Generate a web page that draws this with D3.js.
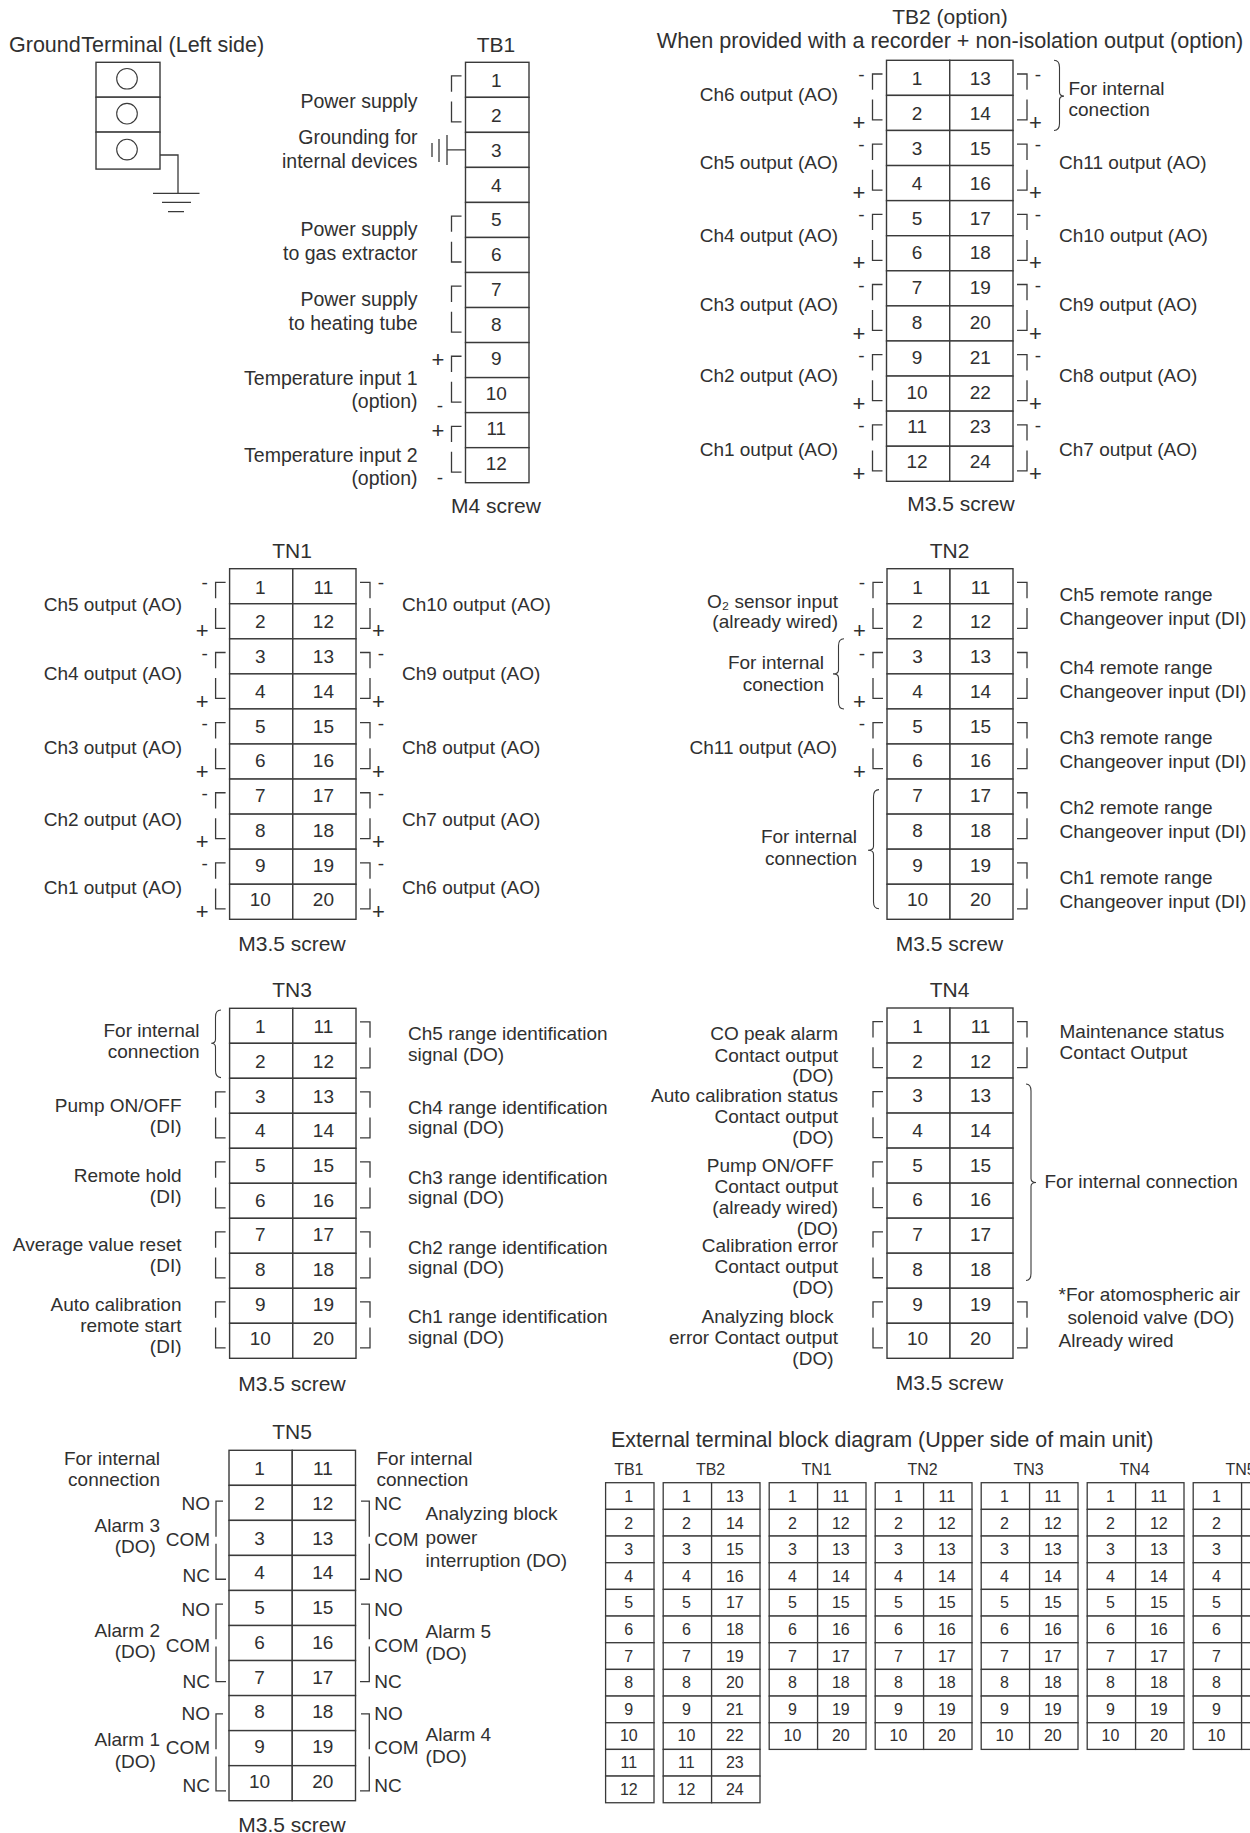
<!DOCTYPE html>
<html><head><meta charset="utf-8">
<script src="https://cdn.jsdelivr.net/npm/d3@7"></script>
<style>
html,body{margin:0;padding:0;background:#fff}
svg{display:block}
text{font-family:"Liberation Sans",Arial,sans-serif;fill:#303030}
</style></head><body>
<svg id="c" width="1250" height="1833"></svg>
<script>
// ---------- terminal numbers ----------
const tb1Terminals=[1,2,3,4,5,6,7,8,9,10,11,12];
const tb2Left=[1,2,3,4,5,6,7,8,9,10,11,12];
const tb2Right=[13,14,15,16,17,18,19,20,21,22,23,24];
const tnLeft=[1,2,3,4,5,6,7,8,9,10];
const tnRight=[11,12,13,14,15,16,17,18,19,20];

// ---------- label texts and the row each one sits on ----------
const tb1Labels=["Power supply","Grounding for","internal devices","Power supply","to gas extractor","Power supply","to heating tube","Temperature input 1","(option)","Temperature input 2","(option)"];
const tb1LabelRows=[1.31,2.33,3.01,4.96,5.64,6.95,7.64,9.21,9.88,11.40,12.07];

const tb2LeftLabels=["Ch6 output (AO)","Ch5 output (AO)","Ch4 output (AO)","Ch3 output (AO)","Ch2 output (AO)","Ch1 output (AO)"];
const tb2LeftRows=[1.16,3.11,5.18,7.15,9.18,11.29];
const tb2RightLabels=["Ch11 output (AO)","Ch10 output (AO)","Ch9 output (AO)","Ch8 output (AO)","Ch7 output (AO)"];
const tb2RightRows=[3.11,5.18,7.15,9.18,11.29];
const tb2InternalLabels=["For internal","conection"];
const tb2InternalRows=[0.99,1.60];

const tn1LeftLabels=["Ch5 output (AO)","Ch4 output (AO)","Ch3 output (AO)","Ch2 output (AO)","Ch1 output (AO)"];
const tn1RightLabels=["Ch10 output (AO)","Ch9 output (AO)","Ch8 output (AO)","Ch7 output (AO)","Ch6 output (AO)"];
const tn1Rows=[1.21,3.18,5.29,7.33,9.28];

const tn2O2Labels=["O₂ sensor input","(already wired)"];
const tn2O2Rows=[1.13,1.70];
const tn2Internal1=["For internal","conection"];
const tn2Internal1Rows=[2.86,3.48];
const tn2Ch11=["Ch11 output (AO)"];
const tn2Ch11Rows=[5.29];
const tn2Internal2=["For internal","connection"];
const tn2Internal2Rows=[7.82,8.45];
const tn2RightLabels=["Ch5 remote range","Changeover input (DI)","Ch4 remote range","Changeover input (DI)","Ch3 remote range","Changeover input (DI)","Ch2 remote range","Changeover input (DI)","Ch1 remote range","Changeover input (DI)"];
const tn2RightRows=[0.92,1.61,3.00,3.68,5.00,5.68,7.00,7.68,9.00,9.67];

const tn3Internal=["For internal","connection"];
const tn3InternalRows=[0.81,1.41];
const tn3LeftLabels=["Pump ON/OFF","(DI)","Remote hold","(DI)","Average value reset","(DI)","Auto calibration","remote start","(DI)"];
const tn3LeftRows=[2.95,3.55,4.95,5.55,6.94,7.54,8.66,9.26,9.84];
const tn3RightLabels=["Ch5 range identification","signal (DO)","Ch4 range identification","signal (DO)","Ch3 range identification","signal (DO)","Ch2 range identification","signal (DO)","Ch1 range identification","signal (DO)"];
const tn3RightRows=[0.90,1.50,3.02,3.59,5.01,5.59,7.01,7.59,8.99,9.60];

const tn4LeftLabels=["CO peak alarm","Contact output","Auto calibration status","Contact output","Contact output","(already wired)","(DO)","Calibration error","Contact output","error Contact output"];
const tn4LeftRows=[0.91,1.53,2.67,3.29,5.29,5.88,6.48,6.97,7.57,9.59];
const tn4IndentLabels=["(DO)","(DO)","Pump ON/OFF","(DO)","Analyzing block","(DO)"];
const tn4IndentRows=[2.10,3.89,4.67,8.17,8.98,10.19];
const tn4MaintLabels=["Maintenance status","Contact Output"];
const tn4MaintRows=[0.85,1.46];
const tn4InternalLabels=["For internal connection"];
const tn4InternalRows=[5.13];
const tn4NoteLabels=["*For atomospheric air","Already wired"];
const tn4NoteRows=[8.36,9.69];
const tn4SolenoidLabels=["solenoid valve (DO)"];
const tn4SolenoidRows=[9.02];

const tn5Internal=["For internal","connection"];
const tn5InternalRows=[0.42,1.02];
const tn5ContactLeft=["NO","COM","NC","NO","COM","NC","NO","COM","NC"];
const tn5ContactRight=["NC","COM","NO","NO","COM","NC","NO","COM","NC"];
const tn5ContactRows=[1.70,2.73,3.77,4.73,5.75,6.79,7.69,8.67,9.74];
const tn5AlarmLabels=["Alarm 3","Alarm 2","Alarm 1"];
const tn5AlarmRows=[2.32,5.32,8.43];
const tn5DoLabels=["(DO)","(DO)","(DO)"];
const tn5DoRows=[2.94,5.92,9.06];
const tn5RightLabels=["Analyzing block","power","interruption (DO)","Alarm 5","(DO)","Alarm 4","(DO)"];
const tn5RightRows=[1.99,2.67,3.34,5.36,5.98,8.29,8.91];
const tn5Groups=[[1.45,2.47,2.67,3.68],[4.39,5.39,5.60,6.60],[7.52,8.53,8.74,9.72]];

// bracket pairs: first row of each pair
const pairsAll=[0,2,4,6,8];
const pairsTb2=[0,2,4,6,8,10];

// external table
const extNames=["TB1","TB2","TN1","TN2","TN3","TN4","TN5"];
const extColumns=[[tb1Terminals],[tb2Left,tb2Right],[tnLeft,tnRight],[tnLeft,tnRight],[tnLeft,tnRight],[tnLeft,tnRight],[tnLeft,tnRight]];

// ---------- drawing helpers ----------
const svg=d3.select("#c");
const LINE="#3a3a3a", HEAD=21;
function T(x,y,s,a="start",size=19){
  return svg.append("text").attr("x",x).attr("y",y).attr("text-anchor",a).attr("font-size",size).text(s);
}
function P(d,w=1.3,c=LINE){svg.append("path").attr("d",d).attr("fill","none").attr("stroke",c).attr("stroke-width",w);}

function block(left,right,top,bottom,columns,titleY,title,screwY,screw,titleX,screwX){
  const n=columns[0].length;
  const y=d3.scaleLinear().domain([0,n]).range([top,bottom]);
  const x=d3.scaleBand().domain(d3.range(columns.length)).range([left,right]);
  columns.forEach((col,ci)=>{
    svg.append("g").selectAll("rect").data(col).join("rect")
      .attr("x",x(ci)).attr("width",x.bandwidth())
      .attr("y",(d,i)=>y(i)).attr("height",(d,i)=>y(i+1)-y(i))
      .attr("fill","#fff").attr("stroke",LINE).attr("stroke-width",1.4);
  });
  columns.forEach((col,ci)=>{
    svg.append("g").selectAll("text").data(col).join("text")
      .attr("x",x(ci)+x.bandwidth()/2-1).attr("y",(d,i)=>y(i+.5)+7.5-3*i/(n-1))
      .attr("text-anchor","middle").attr("font-size",19).text(d=>d);
  });
  if(title)T(titleX,titleY,title,"middle",HEAD);
  if(screw)T(screwX,screwY,screw,"middle",HEAD);
  return {y,left,right};
}
function labels(b,x,anchor,texts,rows,size=19){texts.forEach((t,i)=>T(x,b.y(rows[i]),t,anchor,size));}
function bracketsL(b,pairs){pairs.forEach(r=>{
  const a=b.left-14,c=b.left-4;
  P(`M${c},${b.y(r+.39)}H${a}V${b.y(r+.84)}M${a},${b.y(r+1.12)}V${b.y(r+1.70)}H${c}`);
});}
function bracketsR(b,pairs){pairs.forEach(r=>{
  const a=b.right+14,c=b.right+4;
  P(`M${c},${b.y(r+.39)}H${a}V${b.y(r+.84)}M${a},${b.y(r+1.12)}V${b.y(r+1.70)}H${c}`);
});}
function signsL(b,pairs){pairs.forEach(r=>{
  T(b.left-25,b.y(r+.42)+6,"-","middle");
  T(b.left-27.5,b.y(r+1.79)+7,"+","middle",22);
});}
function signsR(b,pairs){pairs.forEach(r=>{
  T(b.right+25,b.y(r+.42)+6,"-","middle");
  T(b.right+22.5,b.y(r+1.79)+7,"+","middle",22);
});}
// brace: xe = x of the curled ends, xb = x of the spine, xt = x of the tip
function brace(xe,xb,xt,y1,yt,y2){
  P(`M${xe},${y1}Q${xb},${y1} ${xb},${y1+7}V${yt-4}Q${xb},${yt} ${xt},${yt}Q${xb},${yt} ${xb},${yt+4}V${y2-7}Q${xb},${y2} ${xe},${y2}`,1.1);
}

// ---------- Ground terminal ----------
const groundRows=[0,1,2,3.06];
const gy=d3.scaleLinear().domain([0,3]).range([62.3,167]);
d3.pairs(groundRows).forEach(([a,b])=>{
  svg.append("rect").attr("x",96).attr("y",gy(a)).attr("width",64).attr("height",gy(b)-gy(a))
    .attr("fill","#fff").attr("stroke",LINE).attr("stroke-width",1.4);
  svg.append("circle").attr("cx",127).attr("cy",(gy(a)+gy(b))/2-1).attr("r",10.3)
    .attr("fill","#fff").attr("stroke",LINE).attr("stroke-width",1.1);
});
const groundTitle=T(9,51.7,"Ground ","start",21.5);
groundTitle.append("tspan").attr("dx",-5).text("Terminal (Left side)");
P("M160,155H178V193.3");
P("M153,193.3H199.5M162,202.3H191M168,211.7H184");

// ---------- TB1 ----------
const tb1=block(465.5,529,62.3,482.7,[tb1Terminals],52,"TB1",513,"M4 screw",496,496);
labels(tb1,417.5,"end",tb1Labels,tb1LabelRows,19.5);
bracketsL(tb1,[0,4,6,8,10]);
T(438,tb1.y(8.5)+7,"+","middle",22);T(440,tb1.y(9.81)+6,"-","middle");
T(438,tb1.y(10.53)+7,"+","middle",22);T(440,tb1.y(11.87)+6,"-","middle");
P(`M447,${tb1.y(2.5)}H465.5M447,135V165M439,139V162M432,143V157`);

// ---------- TB2 ----------
const tb2=block(886.5,1013,60.3,481.3,[tb2Left,tb2Right],24.3,"TB2 (option)",510.7,"M3.5 screw",950,961);
T(950,48.3,"When provided with a recorder + non-isolation output (option)","middle",21.6);
labels(tb2,838,"end",tb2LeftLabels,tb2LeftRows);
labels(tb2,1059,"start",tb2RightLabels,tb2RightRows);
labels(tb2,1068.5,"start",tb2InternalLabels,tb2InternalRows);
bracketsL(tb2,pairsTb2);bracketsR(tb2,pairsTb2);signsL(tb2,pairsTb2);signsR(tb2,pairsTb2);
brace(1054,1059.5,1064,tb2.y(0),tb2.y(1.02),tb2.y(2));

// ---------- TN1 ----------
const tn1=block(229.6,356,568.7,919.3,[tnLeft,tnRight],557.7,"TN1",950.7,"M3.5 screw",292,292);
labels(tn1,182,"end",tn1LeftLabels,tn1Rows);
labels(tn1,402,"start",tn1RightLabels,tn1Rows);
bracketsL(tn1,pairsAll);bracketsR(tn1,pairsAll);signsL(tn1,pairsAll);signsR(tn1,pairsAll);

// ---------- TN2 ----------
const tn2=block(887,1013,568.7,919.3,[tnLeft,tnRight],557.7,"TN2",950.7,"M3.5 screw",949.5,949.5);
labels(tn2,838,"end",tn2O2Labels,tn2O2Rows);
labels(tn2,824,"end",tn2Internal1,tn2Internal1Rows);
labels(tn2,837,"end",tn2Ch11,tn2Ch11Rows);
labels(tn2,857,"end",tn2Internal2,tn2Internal2Rows);
labels(tn2,1059.5,"start",tn2RightLabels,tn2RightRows);
bracketsL(tn2,[0,2,4]);bracketsR(tn2,pairsAll);signsL(tn2,[0,2,4]);
brace(844,838.5,833,tn2.y(2),tn2.y(3),tn2.y(4));
brace(879,873.5,868,tn2.y(6.3),tn2.y(8.03),tn2.y(9.7));

// ---------- TN3 ----------
const tn3=block(229.6,356,1008.3,1358.3,[tnLeft,tnRight],997.3,"TN3",1390.7,"M3.5 screw",292,292);
labels(tn3,199.6,"end",tn3Internal,tn3InternalRows);
labels(tn3,181.5,"end",tn3LeftLabels,tn3LeftRows);
labels(tn3,408,"start",tn3RightLabels,tn3RightRows);
bracketsL(tn3,[2,4,6,8]);bracketsR(tn3,pairsAll);
brace(221,215.5,211.2,tn3.y(.05),tn3.y(1),tn3.y(1.98));

// ---------- TN4 ----------
const tn4=block(887,1013,1008,1358.3,[tnLeft,tnRight],996.7,"TN4",1390,"M3.5 screw",949.5,949.5);
labels(tn4,838,"end",tn4LeftLabels,tn4LeftRows);
labels(tn4,833.5,"end",tn4IndentLabels,tn4IndentRows);
labels(tn4,1059.5,"start",tn4MaintLabels,tn4MaintRows);
labels(tn4,1044.5,"start",tn4InternalLabels,tn4InternalRows);
labels(tn4,1058.5,"start",tn4NoteLabels,tn4NoteRows);
labels(tn4,1067.5,"start",tn4SolenoidLabels,tn4SolenoidRows);
bracketsL(tn4,pairsAll);bracketsR(tn4,[0,8]);
brace(1026,1031,1036,tn4.y(2.17),tn4.y(4.98),tn4.y(7.78));

// ---------- TN5 ----------
const tn5=block(229,355.5,1450.3,1800.7,[tnLeft,tnRight],1439,"TN5",1831.7,"M3.5 screw",292,292);
labels(tn5,160,"end",tn5Internal,tn5InternalRows);
labels(tn5,376.5,"start",tn5Internal,tn5InternalRows);
labels(tn5,210,"end",tn5ContactLeft,tn5ContactRows);
labels(tn5,374.3,"start",tn5ContactRight,tn5ContactRows);
labels(tn5,160,"end",tn5AlarmLabels,tn5AlarmRows);
labels(tn5,155.8,"end",tn5DoLabels,tn5DoRows);
labels(tn5,425.6,"start",tn5RightLabels,tn5RightRows);
tn5Groups.forEach(g=>{
  const [a,b,c,d]=g.map(tn5.y);
  P(`M223,${a}H216V${b}M216,${c}V${d}H226`);
  P(`M361,${a}H369.3V${b}M369.3,${c}V${d}H360`);
});

// ---------- External terminal block diagram ----------
T(611,1446.7,"External terminal block diagram (Upper side of main unit)","start",21.5);
const extCell=48.4, extGap=9.2, extTop=1482.7, extRow=26.67;
const rowY=d3.scaleLinear().domain([0,12]).range([extTop,extTop+12*extRow]);
let ex=605.6;
extNames.forEach((name,k)=>{
  const cols=extColumns[k];
  const w=cols.length*extCell;
  T(ex+w/2-1,1475,name,"middle",16);
  cols.forEach((col,ci)=>{
    const cx=ex+ci*extCell;
    svg.append("g").selectAll("rect").data(col).join("rect")
      .attr("x",cx).attr("width",extCell).attr("y",(d,i)=>rowY(i)).attr("height",extRow)
      .attr("fill","#fff").attr("stroke",LINE).attr("stroke-width",1.3);
  });
  cols.forEach((col,ci)=>{
    const cx=ex+ci*extCell;
    svg.append("g").selectAll("text").data(col).join("text")
      .attr("x",cx+extCell/2-1).attr("y",(d,i)=>rowY(i+.5)+6-i*.08).attr("text-anchor","middle")
      .attr("font-size",16).text(d=>d);
  });
  ex+=w+extGap;
});
</script></body></html>
